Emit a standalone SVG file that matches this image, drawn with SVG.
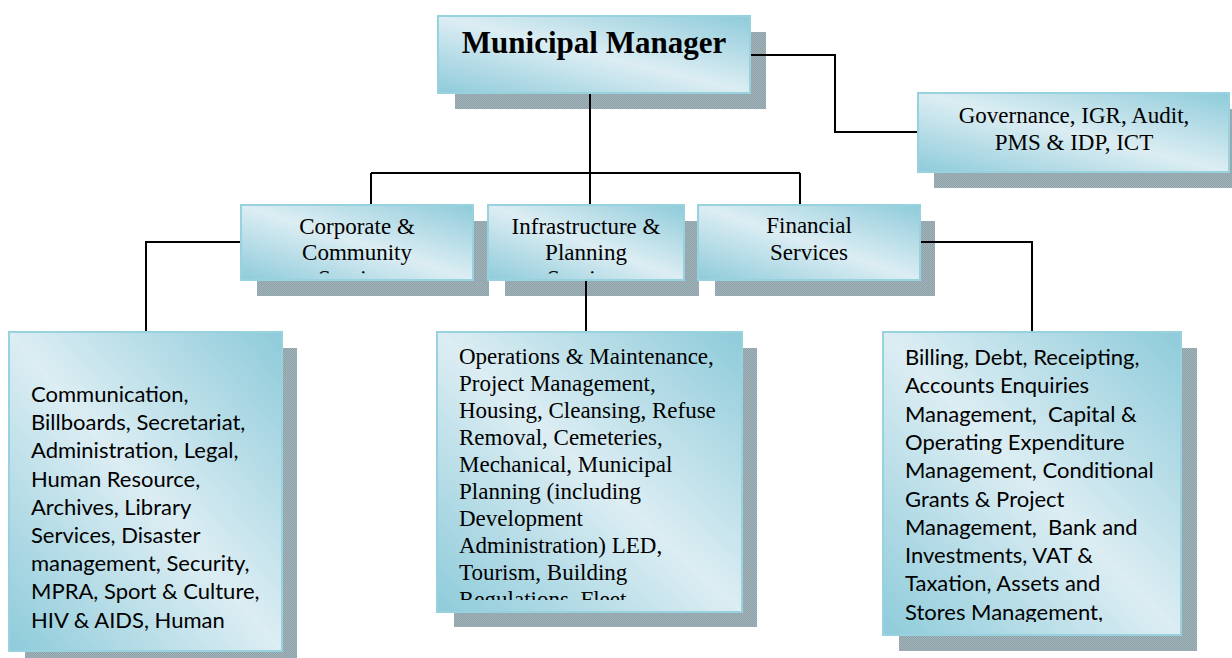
<svg xmlns="http://www.w3.org/2000/svg" width="1232" height="658" viewBox="0 0 1232 658">
  <defs>
    <!-- diagonal cyan sheen used on every box -->
    <linearGradient id="sheen" x1="0" y1="1" x2="1" y2="0">
      <stop offset="0" stop-color="#8ecbda"/>
      <stop offset="0.5" stop-color="#dcedf3"/>
      <stop offset="1" stop-color="#8ecbda"/>
    </linearGradient>
    <!-- dithered grey-teal drop shadow -->
    <pattern id="dither" width="2" height="2" patternUnits="userSpaceOnUse">
      <rect width="2" height="2" fill="#a2b4b9"/>
      <rect width="1" height="1" fill="#8da2a8"/>
      <rect x="1" y="1" width="1" height="1" fill="#8da2a8"/>
    </pattern>
    <clipPath id="clipCorp"><rect x="241" y="205" width="232" height="68.5"/></clipPath>
    <clipPath id="clipInfra"><rect x="488" y="205" width="196" height="68.5"/></clipPath>
    <clipPath id="clipOps"><rect x="437" y="332" width="305" height="268"/></clipPath>
    <clipPath id="clipFin"><rect x="883" y="332" width="298" height="290"/></clipPath>
  </defs>
  <style>
    .shadow { fill: url(#dither); }
    .box { fill: url(#sheen); stroke: #98d2df; stroke-width: 2; }
    .serif { font-family: "Liberation Serif", "Times New Roman", serif; fill: #000; }
    .title { font-size: 31px; font-weight: bold; }
    .label { font-size: 23px; text-anchor: middle; }
    .body { font-size: 23px; }
    .sans { font-family: Lato, "Liberation Sans", sans-serif; font-size: 22px; fill: #000; }
    .wire { fill: none; stroke: #000; stroke-width: 2; }
  </style>

  <!-- Municipal Manager -->
  <g id="municipal-manager">
    <rect class="shadow" x="455" y="32" width="311" height="77"/>
    <rect class="box" x="438" y="16" width="312" height="77"/>
    <text class="serif title" x="594" y="53" text-anchor="middle">Municipal Manager</text>
  </g>

  <!-- Governance -->
  <g id="governance">
    <rect class="shadow" x="934" y="109" width="298" height="79"/>
    <rect class="box" x="918" y="93" width="311" height="79"/>
    <text class="serif label" x="1074" y="123">Governance, IGR, Audit,</text>
    <text class="serif label" x="1074" y="150">PMS &amp; IDP, ICT</text>
  </g>

  <!-- Corporate & Community Services -->
  <g id="corporate">
    <rect class="shadow" x="257" y="221" width="232" height="75"/>
    <rect class="box" x="241" y="205" width="232" height="75"/>
    <g clip-path="url(#clipCorp)">
      <text class="serif label" x="357" y="234">Corporate &amp;</text>
      <text class="serif label" x="357" y="260">Community</text>
      <text class="serif label" x="357" y="286">Services</text>
    </g>
  </g>

  <!-- Infrastructure & Planning Services -->
  <g id="infrastructure">
    <rect class="shadow" x="505" y="221" width="194" height="75"/>
    <rect class="box" x="488" y="205" width="196" height="75"/>
    <g clip-path="url(#clipInfra)">
      <text class="serif label" x="586" y="234">Infrastructure &amp;</text>
      <text class="serif label" x="586" y="260">Planning</text>
      <text class="serif label" x="586" y="286">Services</text>
    </g>
  </g>

  <!-- Financial Services -->
  <g id="financial">
    <rect class="shadow" x="715" y="221" width="220" height="75"/>
    <rect class="box" x="698" y="205" width="222" height="75"/>
    <text class="serif label" x="809" y="233">Financial</text>
    <text class="serif label" x="809" y="260">Services</text>
  </g>

  <!-- Corporate sub-functions -->
  <g id="corporate-functions">
    <rect class="shadow" x="25" y="348" width="272" height="310"/>
    <rect class="box" x="9" y="332" width="273" height="319"/>
    <text class="sans">
      <tspan x="31" y="402">Communication,</tspan>
      <tspan x="31" y="430.2">Billboards, Secretariat,</tspan>
      <tspan x="31" y="458.4">Administration, Legal,</tspan>
      <tspan x="31" y="486.6">Human Resource,</tspan>
      <tspan x="31" y="514.8">Archives, Library</tspan>
      <tspan x="31" y="543">Services, Disaster</tspan>
      <tspan x="31" y="571.2">management, Security,</tspan>
      <tspan x="31" y="599.4">MPRA, Sport &amp; Culture,</tspan>
      <tspan x="31" y="627.6">HIV &amp; AIDS, Human</tspan>
    </text>
  </g>

  <!-- Infrastructure sub-functions -->
  <g id="infrastructure-functions">
    <rect class="shadow" x="454" y="348" width="303" height="279"/>
    <rect class="box" x="437" y="332" width="305" height="280"/>
    <text class="serif body" clip-path="url(#clipOps)">
      <tspan x="459" y="364">Operations &amp; Maintenance,</tspan>
      <tspan x="459" y="391">Project Management,</tspan>
      <tspan x="459" y="418">Housing, Cleansing, Refuse</tspan>
      <tspan x="459" y="445">Removal, Cemeteries,</tspan>
      <tspan x="459" y="472">Mechanical, Municipal</tspan>
      <tspan x="459" y="499">Planning (including</tspan>
      <tspan x="459" y="526">Development</tspan>
      <tspan x="459" y="553">Administration) LED,</tspan>
      <tspan x="459" y="580">Tourism, Building</tspan>
      <tspan x="459" y="607">Regulations, Fleet</tspan>
    </text>
  </g>

  <!-- Financial sub-functions -->
  <g id="financial-functions">
    <rect class="shadow" x="899" y="348" width="298" height="303"/>
    <rect class="box" x="883" y="332" width="298" height="303"/>
    <text class="sans" clip-path="url(#clipFin)">
      <tspan x="905" y="365">Billing, Debt, Receipting,</tspan>
      <tspan x="905" y="393.3">Accounts Enquiries</tspan>
      <tspan x="905" y="421.6">Management,&#160; Capital &amp;</tspan>
      <tspan x="905" y="449.9">Operating Expenditure</tspan>
      <tspan x="905" y="478.2">Management, Conditional</tspan>
      <tspan x="905" y="506.5">Grants &amp; Project</tspan>
      <tspan x="905" y="534.8">Management,&#160; Bank and</tspan>
      <tspan x="905" y="563.1">Investments, VAT &amp;</tspan>
      <tspan x="905" y="591.4">Taxation, Assets and</tspan>
      <tspan x="905" y="619.7">Stores Management,</tspan>
    </text>
  </g>

  <!-- reporting lines -->
  <g id="connectors">
    <path class="wire" d="M590 94 V173 M371 173 H800 M371 173 V204 M590 173 V204 M800 173 V204"/>
    <path class="wire" d="M751 55 H835 V132 H917"/>
    <path class="wire" d="M240 242 H146 V331"/>
    <path class="wire" d="M586 281 V331"/>
    <path class="wire" d="M921 242 H1032 V331"/>
  </g>
</svg>
